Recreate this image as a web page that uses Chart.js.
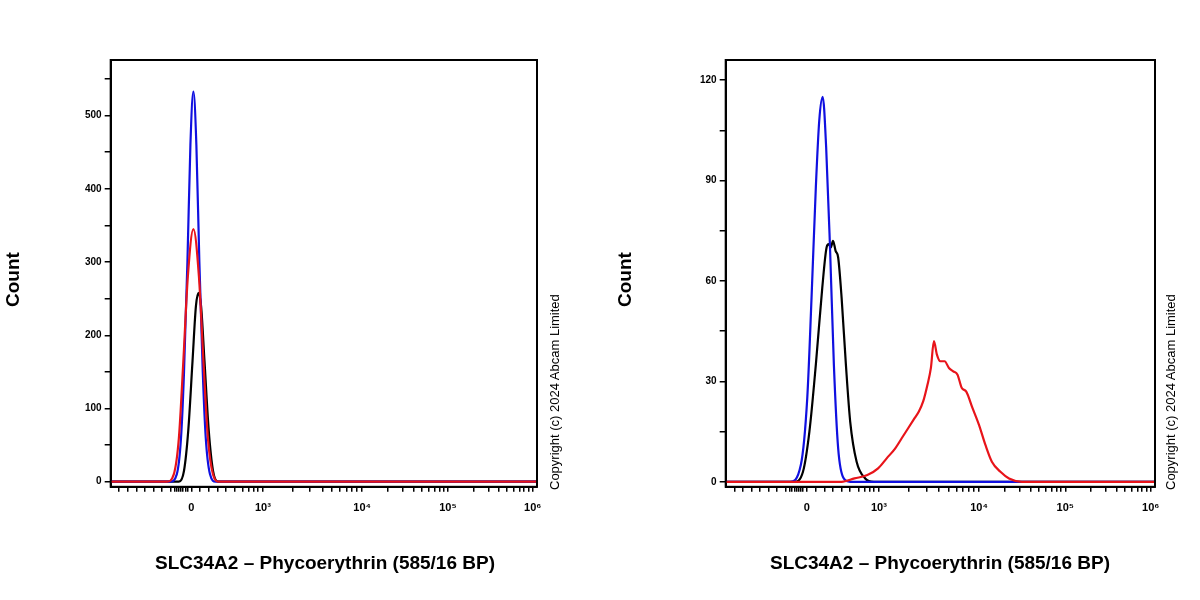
<!DOCTYPE html>
<html><head><meta charset="utf-8">
<script src="https://cdn.jsdelivr.net/npm/chart.js@4"></script>
<style>
body{margin:0;width:1200px;height:600px;background:#fff;position:relative;overflow:hidden;font-family:"Liberation Sans",Arial,sans-serif}
.p{position:absolute;top:0;width:600px;height:600px}
.yt{position:absolute;font-weight:bold;font-size:19px;transform:rotate(-90deg);transform-origin:left top}
.xt{position:absolute;font-weight:bold;font-size:19px;top:552px;width:600px;text-align:center}
.cp{position:absolute;font-size:13px;transform:rotate(-90deg);transform-origin:left top;white-space:nowrap;color:#000}
</style></head><body>
<div class="p" style="left:0"><canvas id="c1" width="600" height="600"></canvas></div>
<div class="p" style="left:600px"><canvas id="c2" width="600" height="600"></canvas></div>
<div class="yt" style="left:2px;top:307px">Count</div>
<div class="yt" style="left:614px;top:307px">Count</div>
<div class="xt" style="left:25px">SLC34A2 – Phycoerythrin (585/16 BP)</div>
<div class="xt" style="left:640px">SLC34A2 – Phycoerythrin (585/16 BP)</div>
<div class="cp" style="left:547px;top:490px">Copyright (c) 2024 Abcam Limited</div>
<div class="cp" style="left:1163px;top:490px">Copyright (c) 2024 Abcam Limited</div>
<script>
// x values are display channels (0..1000) of a biexponential axis
const xTickPos = [189, 357, 590, 791, 990];
const xTickLabels = ['0', '10³', '10⁴', '10⁵', '10⁶'];
const xMinorPos = [20,40,60,80,100,120,140,150,155,160,165,170,175,180,210,230,250,270,290,310,325,335,345,
  427,468,497,519,538,553,566,578,
  650,686,711,730,746,759,771,781,
  851,886,911,930,946,959,970,980];

const L_blueX=[0,140,155,165,172,180,187,194,201,208,216,223,233,246,1000];
const L_blueY=[0,0,10,60,150,300,460,533,460,300,150,60,10,0,0];
const L_redX=[0,132,148,160,170,181,194,207,218,228,240,254,1000];
const L_redY=[0,0,10,60,160,280,345,280,160,60,10,0,0];
const L_blackX=[0,160,172,182,192,200,206,212,220,230,240,252,1000];
const L_blackY=[0,0,15,70,165,240,258,240,165,70,15,0,0];

const R_blueX=[0,150,175,190,200,210,218,226,234,243,252,262,275,290,1000];
const R_blueY=[0,0,5,25,55,88,108,115,100,70,35,10,1,0,0];
const R_blackX=[0,160,180,195,210,225,235,240,245,250,256,262,270,280,290,305,325,345,1000];
const R_blackY=[0,0,3,15,35,58,70,71,70,72,69,67,55,35,18,6,1,0,0];
const R_redX=[0,270,300,330,355,375,395,410,425,440,450,460,470,478,485,492,500,510,520,530,540,550,560,575,590,605,620,640,660,690,1000];
const R_redY=[0,0,1,2,4,7,10,13,16,19,21,24,29,34,42,38,36,36,34,33,32,28,27,22,17,11,6,3,1,0,0];

const L_yMajor=[0,100,200,300,400,500], L_yMinor=[50,150,250,350,450,550];
const R_yMajor=[0,30,60,90,120], R_yMinor=[15,45,75,105];

const pts=(xs,ys)=>xs.map((x,i)=>({x,y:ys[i]}));
const box={id:'box',afterDraw(c){const a=c.chartArea,g=c.ctx;g.save();g.strokeStyle='#000';g.lineWidth=2;g.strokeRect(a.left,a.top,a.right-a.left,a.bottom-a.top);g.restore();}};
function make(id,sets,ymin,ymax,yMaj,yMin,padL,padR){
  new Chart(document.getElementById(id),{type:'line',
    data:{datasets:sets.map(s=>({data:pts(s[0],s[1]),borderColor:s[2],borderWidth:2.2,pointRadius:0,cubicInterpolationMode:'monotone',fill:false}))},
    options:{responsive:false,animation:false,
      layout:{padding:{left:padL,right:padR,top:60,bottom:75}},
      plugins:{legend:{display:false},tooltip:{enabled:false}},
      scales:{
        x:{type:'linear',min:0,max:1000,
          afterBuildTicks(ax){ax.ticks=[...xTickPos,...xMinorPos].map(v=>({value:v}));},
          ticks:{autoSkip:false,maxRotation:0,color:'#000',font:{size:11,weight:'bold',family:'Liberation Sans'},padding:10,
            callback(v){const i=xTickPos.indexOf(v);return i>=0?xTickLabels[i]:'';}},
          grid:{drawOnChartArea:false,color:'#000',tickLength:5,lineWidth:1.5},border:{color:'#000',width:2}},
        y:{type:'linear',min:ymin,max:ymax,
          afterBuildTicks(ax){ax.ticks=[...yMaj,...yMin].map(v=>({value:v}));},
          ticks:{autoSkip:false,color:'#000',font:{size:10,weight:'bold',family:'Liberation Sans'},
            callback(v){return yMaj.includes(v)?String(v):'';}},
          grid:{drawOnChartArea:false,color:'#000',tickLength:6,lineWidth:1.5},border:{color:'#000',width:2}}
      }},plugins:[box]});
}
make('c1',[[L_redX,L_redY,'#e8141a'],[L_blueX,L_blueY,'#1010e0'],[L_blackX,L_blackY,'#000']],-7,576,L_yMajor,L_yMinor,82,63);
make('c2',[[R_redX,R_redY,'#e8141a'],[R_blueX,R_blueY,'#1010e0'],[R_blackX,R_blackY,'#000']],-1.5,126,R_yMajor,R_yMinor,97,45);
</script></body></html>
